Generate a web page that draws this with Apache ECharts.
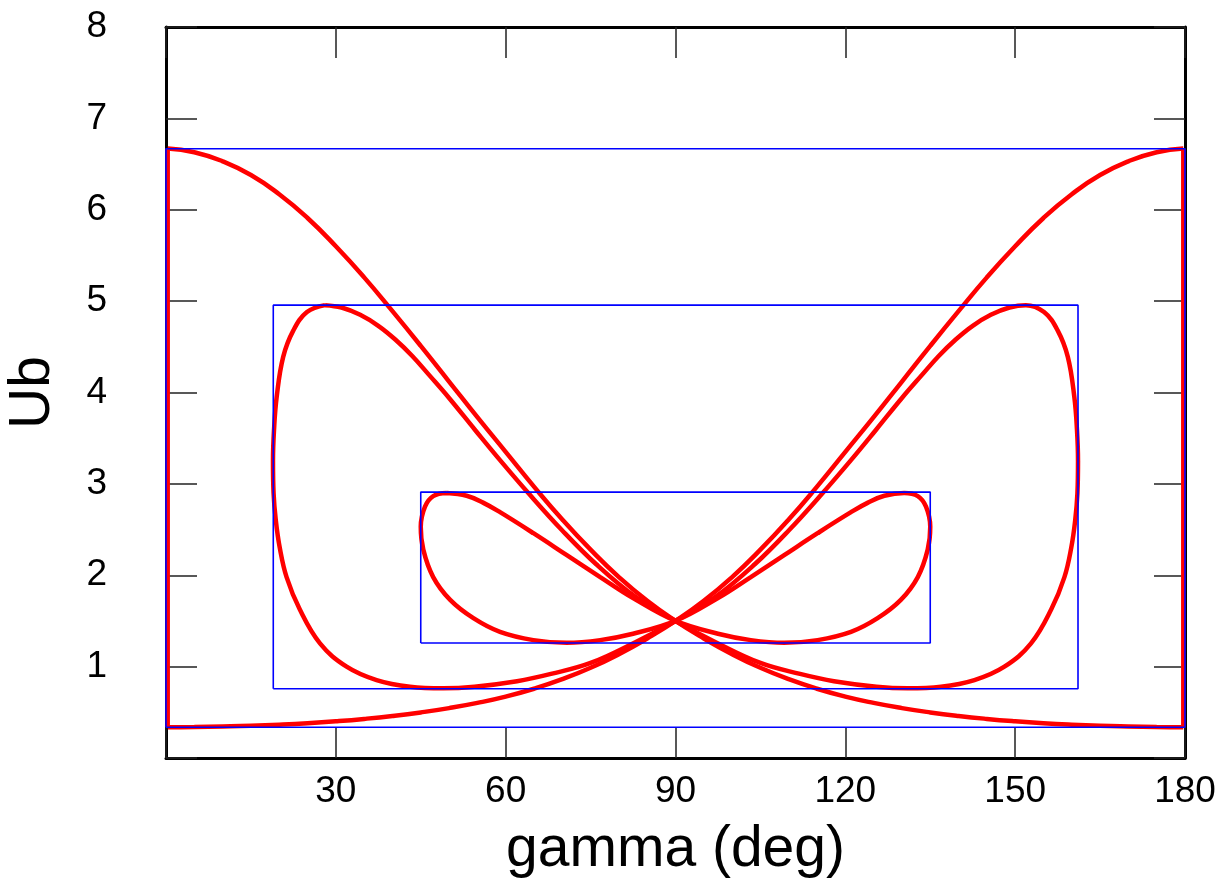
<!DOCTYPE html>
<html>
<head>
<meta charset="utf-8">
<title>Ub vs gamma</title>
<script src="https://cdn.jsdelivr.net/npm/echarts@6/dist/echarts.min.js"></script>
<style>
    html, body { margin: 0; padding: 0; background: #fff; }
    #chart { width: 1228px; height: 892px; }
</style>
</head>
<body>
<div id="chart"></div>
<script>
// outer loop: falling branch, rising branch, and the two short vertical sides
const bigDown = [[0.3,6.67],[5,6.63],[10,6.53],[15,6.38],[20,6.17],[25,5.91],[30,5.60],[35,5.26],[40,4.89],[45,4.51],[50,4.12],[55,3.73],[60,3.35],[65,2.97],[70,2.61],[75,2.28],[80,1.98],[85,1.72],[90,1.50],[95,1.308],[100,1.136],[105,0.987],[110,0.862],[115,0.758],[120,0.672],[125,0.603],[130,0.546],[135,0.499],[140,0.460],[145,0.428],[150,0.402],[155,0.381],[160,0.365],[165,0.353],[170,0.345],[175,0.339],[179.7,0.337]];
const bigUp = [[0.3,0.337],[5,0.339],[10,0.345],[15,0.353],[20,0.365],[25,0.381],[30,0.402],[35,0.428],[40,0.460],[45,0.499],[50,0.546],[55,0.603],[60,0.672],[65,0.758],[70,0.862],[75,0.987],[80,1.136],[85,1.308],[90,1.50],[95,1.72],[100,1.98],[105,2.28],[110,2.61],[115,2.97],[120,3.35],[125,3.73],[130,4.12],[135,4.51],[140,4.89],[145,5.26],[150,5.60],[155,5.91],[160,6.17],[165,6.38],[170,6.53],[175,6.63],[179.7,6.67]];
const bigLeftSide = [[0.3,0.337],[0.3,6.67]];
const bigRightSide = [[179.7,0.337],[179.7,6.67]];

// middle figure-eight, traced as one closed path
const midLoop = [
    [28.1,4.956],[31,4.93],[34.3,4.85],[37.5,4.73],[40.5,4.58],[43.5,4.40],[46.5,4.19],[50,3.94],[54.6,3.59],[59,3.26],[64,2.90],[70,2.49],[76,2.12],[83,1.76],[90,1.50],
    [97,1.27],[105,1.04],[112,0.92],[118,0.84],[125.5,0.78],[131,0.763],
    [136.9,0.78],[142.8,0.853],[148.1,1.0],[152.8,1.255],[156.4,1.63],[158.7,1.98],[159.9,2.30],[160.6,2.60],[161.0,2.90],[161.1,3.25],[160.92,3.59],[160.45,3.95],[159.3,4.39],[157.5,4.68],[155.1,4.88],[151.9,4.956],
    [149,4.93],[145.7,4.85],[142.5,4.73],[139.5,4.58],[136.5,4.40],[133.5,4.19],[130,3.94],[125.4,3.59],[121,3.26],[116,2.90],[110,2.49],[104,2.12],[97,1.76],[90,1.50],
    [83,1.27],[75,1.04],[68,0.92],[62,0.84],[54.5,0.78],[49,0.763],
    [43.1,0.78],[37.2,0.853],[31.9,1.0],[27.2,1.255],[23.6,1.63],[21.3,1.98],[20.1,2.30],[19.4,2.60],[19.0,2.90],[18.9,3.25],[19.08,3.59],[19.55,3.95],[20.7,4.39],[22.5,4.68],[24.9,4.88],[28.1,4.956]
];

// inner figure-eight
const innerLoop = [
    [49.6,2.90],[53.1,2.87],[56,2.795],[59,2.69],[64.9,2.46],[70.8,2.22],[76.7,1.98],[82.5,1.75],[90,1.50],
    [97.5,1.36],[103.3,1.29],[109.2,1.26],[115.1,1.29],[121,1.38],[125.7,1.53],[129.8,1.73],[132.8,1.98],[134.55,2.28],[135.0,2.53],[134.25,2.75],[132.8,2.866],[130.4,2.90],
    [126.9,2.87],[124,2.795],[121,2.69],[115.1,2.46],[109.2,2.22],[103.3,1.98],[97.5,1.75],[90,1.50],
    [82.5,1.36],[76.7,1.29],[70.8,1.26],[64.9,1.29],[59,1.38],[54.3,1.53],[50.2,1.73],[47.2,1.98],[45.45,2.28],[45.0,2.53],[45.75,2.75],[47.2,2.866],[49.6,2.90]
];

// bounding boxes [gMin, gMax, UbMin, UbMax]
const boxBig = [0, 180, 0.337, 6.668];
const boxMid = [18.95, 161.1, 0.758, 4.956];
const boxInner = [45.0, 135.0, 1.258, 2.91];

const xTicks = { min: 0, max: 180, interval: 30 };
const yTicks = { min: 0, max: 8, interval: 1 };

function boxPath(b) {
    return [[b[0], b[2]], [b[1], b[2]], [b[1], b[3]], [b[0], b[3]], [b[0], b[2]]];
}

var myChart = echarts.init(document.getElementById('chart'));

const font = "'Liberation Sans', Arial, sans-serif";
const tickStyle = { show: true, inside: true, length: 31, lineStyle: { color: '#222', width: 1.5 } };
const frameLine = { show: true, onZero: false, lineStyle: { color: '#000', width: 3 } };

function redLine(data, smooth) {
    return {
        type: 'line', data: data, smooth: smooth, showSymbol: false, symbol: 'none',
        lineStyle: { color: '#ff0000', width: 4.5 }, z: 2, silent: true
    };
}
function blueBox(b) {
    return {
        type: 'line', data: boxPath(b), showSymbol: false, symbol: 'none',
        lineStyle: { color: '#0000ff', width: 1.6 }, z: 3, silent: true
    };
}

myChart.setOption({
    animation: false,
    grid: { left: 166, right: 43, top: 27, bottom: 134, containLabel: false, outerBoundsMode: 'none' },
    xAxis: [
        {
            type: 'value', position: 'bottom',
            min: xTicks.min, max: xTicks.max, interval: xTicks.interval,
            axisLine: frameLine, axisTick: tickStyle, splitLine: { show: false },
            axisLabel: {
                margin: 15, fontSize: 37, lineHeight: 37, color: '#000', fontFamily: font,
                formatter: v => (v === 0 ? '' : String(v))
            },
            name: 'gamma (deg)', nameLocation: 'middle', nameGap: 64,
            nameTextStyle: { fontSize: 57, lineHeight: 57, color: '#000', fontFamily: font }
        },
        {
            type: 'value', position: 'top',
            min: xTicks.min, max: xTicks.max, interval: xTicks.interval,
            axisLine: frameLine, axisTick: tickStyle, splitLine: { show: false },
            axisLabel: { show: false }
        }
    ],
    yAxis: [
        {
            type: 'value', position: 'left',
            min: yTicks.min, max: yTicks.max, interval: yTicks.interval,
            axisLine: frameLine, axisTick: tickStyle, splitLine: { show: false },
            axisLabel: {
                margin: 59, fontSize: 37, color: '#000', fontFamily: font,
                formatter: v => (v === 0 ? '' : String(v))
            },
            name: 'Ub', nameLocation: 'middle', nameGap: 104,
            nameTextStyle: { fontSize: 57, lineHeight: 57, color: '#000', fontFamily: font }
        },
        {
            type: 'value', position: 'right',
            min: yTicks.min, max: yTicks.max, interval: yTicks.interval,
            axisLine: frameLine, axisTick: tickStyle, splitLine: { show: false },
            axisLabel: { show: false }
        }
    ],
    series: [
        redLine(bigDown, true),
        redLine(bigUp, true),
        redLine(bigLeftSide, false),
        redLine(bigRightSide, false),
        redLine(midLoop, 0.4),
        redLine(innerLoop, 0.4),
        blueBox(boxBig),
        blueBox(boxMid),
        blueBox(boxInner)
    ]
});
</script>
</body>
</html>
